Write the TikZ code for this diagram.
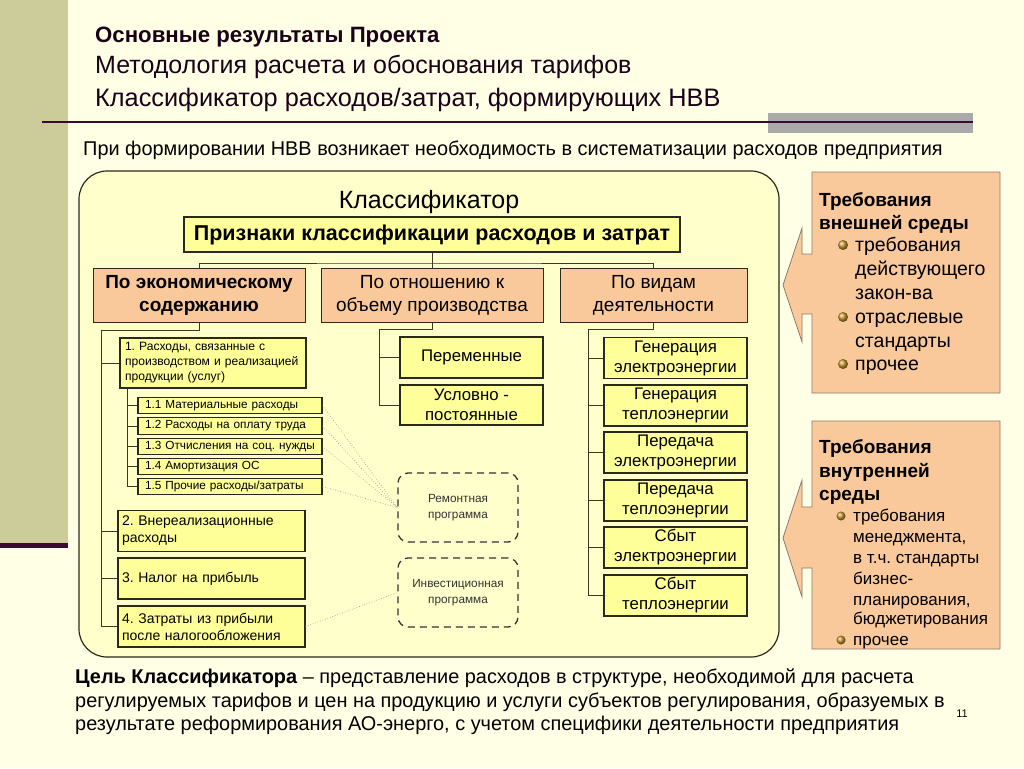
\documentclass[tikz,border=0pt]{standalone}
\usepackage{fontspec}
\setmainfont{Liberation Sans}
\frenchspacing
\newcommand\myfs[2]{\fontsize{#1}{#2}\selectfont}
\definecolor{bgc}{HTML}{FFFFE6}
\definecolor{stripe}{HTML}{CCCC9A}
\definecolor{purp}{HTML}{3A0A33}
\definecolor{greyr}{HTML}{AAAAAA}
\definecolor{mainfill}{HTML}{FFFFCC}
\definecolor{yel}{HTML}{FFFF99}
\definecolor{peach}{HTML}{FAC99B}
\definecolor{bdr}{HTML}{2A2A1A}
\definecolor{lnc}{HTML}{3A3A20}
\definecolor{calbdr}{HTML}{8C7B6B}
\definecolor{bullc}{HTML}{C8962E}
\definecolor{ttl}{HTML}{1A0018}
\begin{document}
\begin{tikzpicture}[x=1pt,y=-1pt,
  every node/.style={inner sep=0pt},
  pbox/.style={draw=bdr, fill=peach, line width=1pt, align=center, font=\myfs{19}{23}},
  ybox/.style={draw=bdr, fill=yel, line width=1.2pt},
  cbox/.style={ybox, align=center, minimum width=143pt, minimum height=41pt, font=\myfs{16.8}{20}},
  subbox/.style={ybox, align=left, inner xsep=7pt, text width=170pt, minimum height=16.5pt, font=\myfs{11.8}{13}},
  itembox/.style={ybox, align=left, inner xsep=4pt, text width=179pt, minimum height=41pt, font=\myfs{14}{17}},
  conn/.style={draw=lnc, line width=1pt},
  dotl/.style={draw=black!45, line width=0.6pt, dotted},
  dbox/.style={draw=black!80, dash pattern=on 7pt off 5pt, rounded corners=10pt, line width=1.3pt, align=center, font=\myfs{11.8}{16}, text=black!80, minimum width=120pt, minimum height=69pt},
  callout/.style={fill=peach, draw=calbdr, line width=0.8pt},
  ctext/.style={anchor=base west, font=\myfs{19.5}{21}},
  ctextb/.style={anchor=base west, font=\bfseries\myfs{19}{21}},
  ctexts/.style={anchor=base west, font=\myfs{17}{18}},
  bul/.style={ball color=bullc}
]
% background
\fill[bgc] (0,0) rectangle (1024,768);
\useasboundingbox (0,0) rectangle (1024,768);
\fill[stripe] (0,0) rectangle (68,543);
\fill[purp] (0,543) rectangle (68,548);
% header
\fill[greyr] (768,113) rectangle (973,133);
\draw[purp, line width=2.5pt] (42,122) -- (973,122);
\node[anchor=base west, font=\bfseries\myfs{22.2}{26}, text=ttl] (t1) at (95,42) {Основные результаты Проекта};
\node[anchor=base west, font=\myfs{25}{29}, text=ttl] (t2) at (95,74) {Методология расчета и обоснования тарифов};
\node[anchor=base west, font=\myfs{25.3}{29}, text=ttl] (t3) at (95,106) {Классификатор расходов/затрат, формирующих НВВ};
\node[anchor=base west, font=\myfs{19.9}{23}] (sub) at (83,155) {При формировании НВВ возникает необходимость в систематизации расходов предприятия};
% main box
\draw[rounded corners=28pt, fill=mainfill, draw=bdr, line width=1.2pt] (79,171) rectangle (779,657);
\node[anchor=base, font=\myfs{25}{29}] (klass) at (429,208) {Классификатор};
\node[ybox, line width=2.6pt, minimum width=496pt, minimum height=35pt, font=\bfseries\myfs{21.5}{25}] (T) at (432,234.5) {Признаки классификации расходов и затрат};
\node[pbox, minimum width=212pt, minimum height=54pt, font=\bfseries\myfs{19}{23}] (A) at (199,295) {По экономическому\\содержанию};
\node[pbox, minimum width=222pt, minimum height=54pt] (B) at (432,295) {По отношению к\\объему производства};
\node[pbox, minimum width=187pt, minimum height=54pt] (C) at (653.5,295) {По видам\\деятельности};
\coordinate (hy) at (432,263);
\draw[conn] (A.north) |- (hy) -| (C.north);
\draw[conn] (T.south) -- (B.north);
% column A
\node[ybox, align=left, inner xsep=5pt, text width=176pt, minimum height=50pt, font=\myfs{12.1}{15}] (I1) at (213,363) {1. Расходы, связанные с\\производством и реализацией\\продукции (услуг)};
\node[subbox] (S1) at (230,405.5) {1.1 Материальные расходы};
\node[subbox] (S2) at (230,426) {1.2 Расходы на оплату труда};
\node[subbox] (S3) at (230,446.5) {1.3 Отчисления на соц. нужды};
\node[subbox] (S4) at (230,466.5) {1.4 Амортизация ОС};
\node[subbox] (S5) at (230,486.5) {1.5 Прочие расходы/затраты};
\node[itembox] (I2) at (211.5,531) {2. Внереализационные\\расходы};
\node[itembox] (I3) at (211.5,578.5) {3. Налог на прибыль};
\node[itembox] (I4) at (211.5,626.5) {4. Затраты из прибыли\\после налогообложения};
\coordinate (ta) at (101,330);
\coordinate (tb) at (127,0);
\draw[conn] (A.south) |- (ta) -- (ta |- I4.west) -- (I4.west);
\foreach \n in {I1,I2,I3} \draw[conn] (ta |- \n.west) -- (\n.west);
\draw[conn] (I1.south -| tb) -- (tb |- S5.west) -- (S5.west);
\foreach \n in {S1,S2,S3,S4} \draw[conn] (tb |- \n.west) -- (\n.west);
% column B
\node[ybox, align=center, minimum width=143pt, minimum height=41pt, font=\myfs{16.8}{20}] (P) at (471.5,357.5) {Переменные};
\node[ybox, align=center, minimum width=143pt, minimum height=40pt, font=\myfs{16.8}{20}] (U) at (471.5,405) {Условно -\\постоянные};
\coordinate (bt) at (379,329);
\draw[conn] (B.south) |- (bt) -- (bt |- U.west) -- (U.west);
\draw[conn] (bt |- P.west) -- (P.west);
% column C
\node[cbox] (C1) at (675.5,358) {Генерация\\электроэнергии};
\node[cbox] (C2) at (675.5,405.5) {Генерация\\теплоэнергии};
\node[cbox] (C3) at (675.5,452.5) {Передача\\электроэнергии};
\node[cbox] (C4) at (675.5,500.5) {Передача\\теплоэнергии};
\node[cbox] (C5) at (675.5,547.5) {Сбыт\\электроэнергии};
\node[cbox] (C6) at (675.5,595.5) {Сбыт\\теплоэнергии};
\coordinate (ct) at (588,329);
\draw[conn] (C.south) |- (ct) -- (ct |- C6.west) -- (C6.west);
\foreach \n in {C1,C2,C3,C4,C5} \draw[conn] (ct |- \n.west) -- (\n.west);
% dashed programs
\node[dbox] (R) at (458,507.5) {Ремонтная\\программа};
\node[dbox] (V) at (458,592.5) {Инвестиционная\\программа};
\foreach \n in {S1,S2,S3,S5} \draw[dotl] (\n.east) -- (R.west);
\draw[dotl] (I4.east) -- (V.west);
% callouts
\draw[callout] (812,172) -- (1000,172) -- (1000,393) -- (812,393) -- (812,314) -- (802,314) -- (802,342) -- (783,285) -- (802,228) -- (802,254) -- (812,254) -- cycle;
\draw[callout] (812,421) -- (1000,421) -- (1000,649) -- (812,649) -- (812,568) -- (802,568) -- (802,597) -- (783,538) -- (802,480) -- (802,507) -- (812,507) -- cycle;
\node[ctextb] (e1) at (819,206) {Требования};
\node[ctextb] (e2) at (819,229) {внешней среды};
\node[ctext] (e3) at (855,251) {требования};
\node[ctext] (e4) at (855,275) {действующего};
\node[ctext] (e5) at (855,299) {закон-ва};
\node[ctext] (e6) at (855,323) {отраслевые};
\node[ctext] (e7) at (855,347) {стандарты};
\node[ctext] (e8) at (855,370) {прочее};
\shade[bul] (843,245) circle (5pt);
\shade[bul] (843,317) circle (5pt);
\shade[bul] (843,364) circle (5pt);
\node[ctextb] (i1) at (819,453) {Требования};
\node[ctextb] (i2) at (819,477) {внутренней};
\node[ctextb] (i3) at (819,500) {среды};
\node[ctexts] (i4) at (853,521) {требования};
\node[ctexts] (i5) at (853,542) {менеджмента,};
\node[ctexts] (i6) at (853,563) {в т.ч. стандарты};
\node[ctexts] (i7) at (853,584) {бизнес-};
\node[ctexts] (i8) at (853,605) {планирования,};
\node[ctexts] (i9) at (853,624) {бюджетирования};
\node[ctexts] (i10) at (853,645) {прочее};
\shade[bul] (841,516) circle (4.5pt);
\shade[bul] (841,640) circle (4.5pt);
% bottom text
\node[anchor=base west, font=\myfs{19.9}{23}] (g1) at (75,683) {\textbf{Цель Классификатора} – представление расходов в структуре, необходимой для расчета};
\node[anchor=base west, font=\myfs{19.9}{23}] (g2) at (75,707) {регулируемых тарифов и цен на продукцию и услуги субъектов регулирования, образуемых в};
\node[anchor=base west, font=\myfs{19.9}{23}] (g3) at (75,730) {результате реформирования АО-энерго, с учетом специфики деятельности предприятия};
\node[anchor=base, font=\myfs{11}{13}] (pg) at (962,717) {11};
\end{tikzpicture}
\end{document}
